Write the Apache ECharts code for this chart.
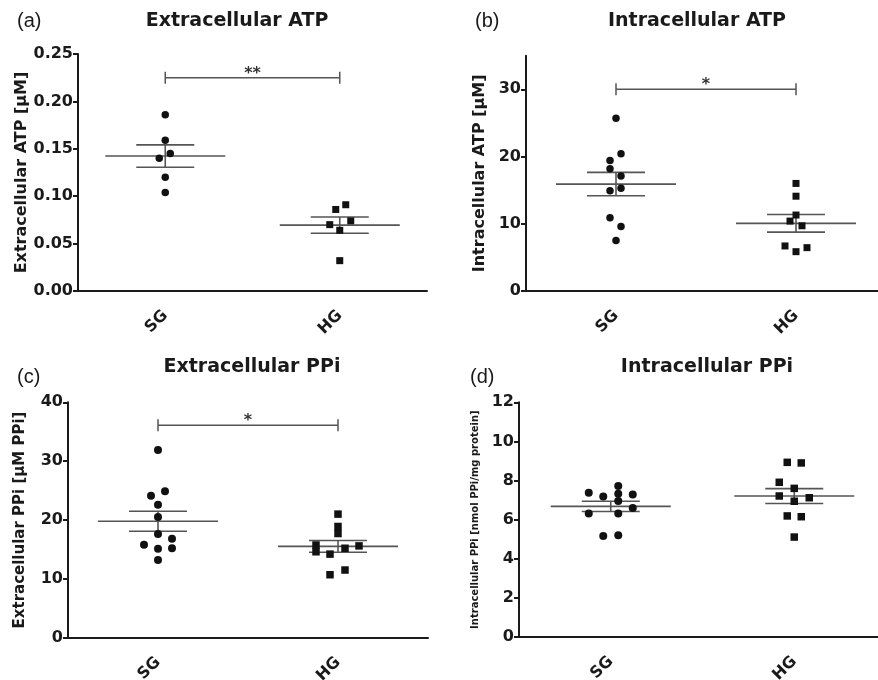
<!DOCTYPE html>
<html>
<head>
<meta charset="UTF-8">
<title>ATP / PPi</title>
<script src="https://cdn.jsdelivr.net/npm/echarts@6/dist/echarts.min.js"></script>
<style>html,body{margin:0;background:#fff;}</style>
</head>
<body>
<div id="chart" style="width:878px;height:680px;"></div>
<script>
var groups = ['SG', 'HG'];

// (a) extracellular ATP [uM]
var extAtpSG = [0.186, 0.159, 0.145, 0.140, 0.120, 0.104];
var extAtpHG = [0.091, 0.086, 0.074, 0.070, 0.064, 0.032];
// (b) intracellular ATP [uM]
var intAtpSG = [25.7, 20.4, 19.4, 18.2, 17.1, 15.3, 14.9, 10.9, 9.6, 7.5];
var intAtpHG = [16.0, 14.1, 11.3, 10.4, 9.7, 6.7, 6.45, 5.85];
// (c) extracellular PPi [uM PPi]
var extPpiSG = [31.9, 24.9, 24.1, 22.6, 20.5, 17.6, 16.8, 15.8, 15.2, 15.1, 13.2];
var extPpiHG = [21.0, 18.9, 17.7, 15.75, 15.6, 15.2, 14.6, 14.2, 11.5, 10.7];
// (d) intracellular PPi [nmol PPi/mg protein]
var intPpiSG = [7.72, 7.38, 7.33, 7.29, 7.19, 6.95, 6.6, 6.32, 6.32, 5.2, 5.16];
var intPpiHG = [8.93, 8.9, 7.91, 7.6, 7.21, 7.12, 6.94, 6.19, 6.15, 5.11];

// significance brackets (height, stars)
var sigA = [0.225, '**'];
var sigB = [30, '*'];
var sigC = [36.1, '*'];

// y ticks
var ticksA = [0, 0.05, 0.10, 0.15, 0.20, 0.25];
var ticksB = [0, 10, 20, 30];
var ticksC = [0, 10, 20, 30, 40];
var ticksD = [0, 2, 4, 6, 8, 10, 12];

// horizontal spread of the dots (px), same order as the values
var jitA = [[0, 0, 5, -6, 0, 0], [6, -4, 11, -10, 0, 0]];
var jitB = [[0, 5, -6, -6, 5, 5, -6, -6, 5, 0], [0, 0, 0, -6, 6, -11, 11, 0]];
var jitC = [[0, 7, -7, 0, 0, 0, 14, -14, 14, 0, 0], [0, 0, 0, -22, 21, 7, -22, -8, 7, -8]];
var jitD = [[7.5, -22, 7.5, 22, -7.5, 7.5, 22, -22, 7.5, 7.5, -7.5], [-7, 7, -15, 0, -15, 15, 0, -7, 7, 0]];

var FONT = 'DejaVu Sans';
var INK = '#1a1a1a';
var BAR = '#555555';

function mean(a) {
	return a.reduce(function(s, v) { return s + v; }, 0) / a.length;
}
function sem(a) {
	var m = mean(a);
	var ss = a.reduce(function(s, v) { return s + (v - m) * (v - m); }, 0);
	return Math.sqrt(ss / (a.length - 1)) / Math.sqrt(a.length);
}

var panels = [
	{ tag: '(a)', title: 'Extracellular ATP', tx: 232, name: 'Extracellular ATP [\u03bcM]', nameSize: 16, nameGap: 48,
		grid: { left: 78, top: 54, width: 349, height: 237 }, max: 0.25, interval: 0.05, ticks: ticksA, dec: 2,
		sets: [extAtpSG, extAtpHG], jit: jitA, sig: sigA, size: 7.5 },
	{ tag: '(b)', title: 'Intracellular ATP', tx: 692, name: 'Intracellular ATP [\u03bcM]', nameSize: 16, nameGap: 38,
		grid: { left: 526, top: 55.7, width: 360, height: 235.3 }, max: 35, interval: 5, ticks: ticksB, dec: 0,
		sets: [intAtpSG, intAtpHG], jit: jitB, sig: sigB, size: 7.5 },
	{ tag: '(c)', title: 'Extracellular PPi', tx: 247, name: 'Extracellular PPi [\u03bcM PPi]', nameSize: 15, nameGap: 40,
		grid: { left: 68, top: 402.3, width: 360, height: 235.4 }, max: 40, interval: 10, ticks: ticksC, dec: 0,
		sets: [extPpiSG, extPpiHG], jit: jitC, sig: sigC, size: 8 },
	{ tag: '(d)', title: 'Intracellular PPi', tx: 702, name: 'Intracellular PPi [nmol PPi/mg protein]', nameSize: 10, nameGap: 39,
		grid: { left: 519, top: 402.3, width: 367, height: 234.7 }, max: 12, interval: 2, ticks: ticksD, dec: 0,
		sets: [intPpiSG, intPpiHG], jit: jitD, sig: null, size: 8 }
];

var grids = [], xAxes = [], yAxes = [], series = [], titles = [];

panels.forEach(function(p, k) {
	var top = p.grid.top < 200;
	titles.push({
		text: p.title, left: p.tx, top: top ? 7 : 353, textAlign: 'center',
		textStyle: { fontFamily: FONT, fontSize: 19, fontWeight: 'bold', color: INK }
	});
	titles.push({
		text: p.tag, left: k % 2 ? (k == 1 ? 470 : 465) : 12, top: top ? 6 : 362,
		textStyle: { fontFamily: 'Liberation Sans', fontSize: 20, fontWeight: 'normal', color: INK }
	});

	grids.push(Object.assign({ outerBoundsMode: 'none', containLabel: false }, p.grid));

	xAxes.push({
		type: 'category', gridIndex: k, data: groups,
		axisLine: { lineStyle: { color: INK, width: 2 } },
		axisTick: { alignWithLabel: true, interval: 0, length: 7, lineStyle: { color: INK, width: 2 } },
		axisLabel: { interval: 0, rotate: 45, margin: 22, color: INK, fontFamily: FONT, fontSize: 16, fontWeight: 'bold' },
		splitLine: { show: false }
	});

	yAxes.push({
		type: 'value', gridIndex: k, min: 0, max: p.max, interval: p.interval,
		name: p.name, nameLocation: 'middle', nameGap: p.nameGap,
		nameTextStyle: { fontFamily: FONT, fontSize: p.nameSize, fontWeight: 'bold', color: INK },
		axisLine: { show: true, lineStyle: { color: INK, width: 2 } },
		axisTick: { show: true, length: 5, customValues: p.ticks, lineStyle: { color: INK, width: 2 } },
		axisLabel: {
			customValues: p.ticks, margin: 5, color: INK, fontFamily: FONT, fontSize: 16, fontWeight: 'bold',
			formatter: function(v) { return v.toFixed(p.dec); }
		},
		splitLine: { show: false }
	});

	// mean +/- SEM
	series.push({
		type: 'custom', xAxisIndex: k, yAxisIndex: k, z: 2, silent: true,
		data: p.sets.map(function(s, gi) { return [gi, mean(s), sem(s)]; }),
		renderItem: function(params, api) {
			var c = api.coord([api.value(0), api.value(1)]);
			var hi = api.coord([api.value(0), api.value(1) + api.value(2)]);
			var lo = api.coord([api.value(0), api.value(1) - api.value(2)]);
			var st = { stroke: BAR, lineWidth: 1.6 };
			return {
				type: 'group',
				children: [
					{ type: 'line', shape: { x1: c[0] - 60, y1: c[1], x2: c[0] + 60, y2: c[1] }, style: st },
					{ type: 'line', shape: { x1: c[0] - 29, y1: hi[1], x2: c[0] + 29, y2: hi[1] }, style: st },
					{ type: 'line', shape: { x1: c[0] - 29, y1: lo[1], x2: c[0] + 29, y2: lo[1] }, style: st },
					{ type: 'line', shape: { x1: c[0], y1: hi[1], x2: c[0], y2: lo[1] }, style: st }
				]
			};
		}
	});

	// individual values
	p.sets.forEach(function(s, gi) {
		series.push({
			type: 'scatter', xAxisIndex: k, yAxisIndex: k, z: 3,
			symbol: gi === 0 ? 'circle' : 'rect', symbolSize: gi === 0 ? p.size : p.size - 0.5,
			itemStyle: { color: '#111111', opacity: 1 },
			data: s.map(function(v, i) {
				return { value: [gi, v], symbolOffset: [p.jit[gi][i], 0] };
			})
		});
	});

	// significance bracket
	if (p.sig) {
		series.push({
			type: 'custom', xAxisIndex: k, yAxisIndex: k, z: 2, silent: true,
			data: [[0, 1, p.sig[0]]],
			renderItem: function(params, api) {
				var a = api.coord([api.value(0), api.value(2)]);
				var b = api.coord([api.value(1), api.value(2)]);
				var st = { stroke: BAR, lineWidth: 1.5 };
				return {
					type: 'group',
					children: [
						{ type: 'line', shape: { x1: a[0], y1: a[1], x2: b[0], y2: b[1] }, style: st },
						{ type: 'line', shape: { x1: a[0], y1: a[1] - 6, x2: a[0], y2: a[1] + 6 }, style: st },
						{ type: 'line', shape: { x1: b[0], y1: b[1] - 6, x2: b[0], y2: b[1] + 6 }, style: st },
						{ type: 'text', style: {
							text: p.sig[1], x: (a[0] + b[0]) / 2, y: a[1] + 4,
							align: 'center', verticalAlign: 'bottom',
							font: 'bold 16px "DejaVu Sans"', fill: '#333333'
						} }
					]
				};
			}
		});
	}
});

var chart = echarts.init(document.getElementById('chart'));
chart.setOption({
	backgroundColor: '#ffffff',
	animation: false,
	title: titles,
	grid: grids,
	xAxis: xAxes,
	yAxis: yAxes,
	series: series
});
</script>
</body>
</html>
